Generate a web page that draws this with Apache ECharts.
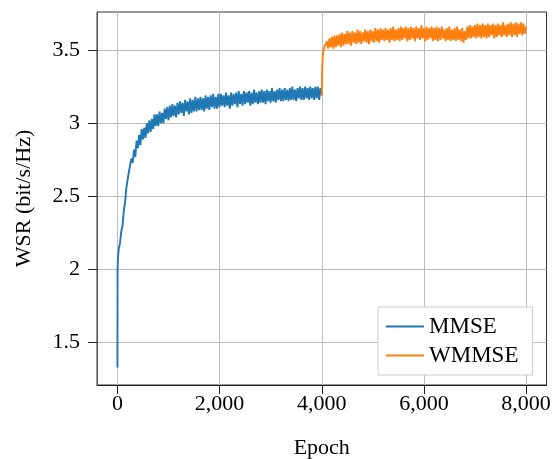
<!DOCTYPE html>
<html><head><meta charset="utf-8">
<script src="https://cdn.jsdelivr.net/npm/echarts@6/dist/echarts.min.js"></script>
<style>html,body{margin:0;padding:0;background:#fff}#c{width:553px;height:459px}</style>
</head><body><div id="c"></div>
<script>
// ---- data ----
const mmseHeadEpochs = [0, 3, 10];
const mmseHeadWSR = [1.33, 2.0, 2.08];
const mmseStartEpoch = 25;
const logStep = 25;
const mmseWSR = [
2.14,2.18,2.26,2.30,2.40,2.46,2.56,2.57,
2.67,2.66,2.76,2.73,2.82,2.77,2.88,2.83,
2.92,2.85,2.96,2.89,2.97,2.90,3.00,2.93,
3.02,2.94,3.03,2.96,3.06,2.98,3.06,2.98,
3.08,3.00,3.07,3.00,3.10,3.03,3.11,3.02,
3.12,3.04,3.13,3.05,3.12,3.04,3.14,3.06,
3.15,3.07,3.14,3.05,3.16,3.08,3.15,3.06,
3.17,3.07,3.16,3.08,3.18,3.08,3.17,3.09,
3.18,3.09,3.17,3.08,3.19,3.10,3.18,3.09,
3.19,3.11,3.20,3.10,3.18,3.10,3.20,3.11,
3.20,3.12,3.19,3.11,3.21,3.12,3.19,3.10,
3.21,3.12,3.20,3.13,3.21,3.11,3.22,3.13,
3.20,3.12,3.22,3.13,3.21,3.14,3.22,3.12,
3.21,3.13,3.23,3.14,3.21,3.13,3.22,3.14,
3.23,3.14,3.22,3.13,3.23,3.15,3.22,3.14,
3.24,3.15,3.22,3.14,3.23,3.16,3.24,3.15,
3.23,3.15,3.24,3.16,3.23,3.15,3.24,3.16,
3.25,3.16,3.23,3.15,3.24,3.17,3.25,3.16,
3.24,3.16,3.25,3.17,3.24,3.16,3.25,3.17,
3.24,3.16,3.25,3.17,3.25,3.16,3.24,3.19
];
const wmmseHeadEpochs = [4000, 4005, 4012, 4020];
const wmmseHeadWSR = [3.19, 3.30, 3.40, 3.46];
const wmmseStartEpoch = 4025;
const wmmseWSR = [
3.48,3.52,3.51,3.56,3.51,3.58,3.52,3.59,
3.51,3.60,3.52,3.60,3.53,3.61,3.52,3.62,
3.53,3.61,3.54,3.63,3.54,3.62,3.53,3.63,
3.55,3.62,3.54,3.64,3.55,3.63,3.54,3.62,
3.56,3.64,3.55,3.63,3.54,3.64,3.56,3.63,
3.55,3.65,3.56,3.64,3.55,3.65,3.57,3.64,
3.56,3.65,3.57,3.64,3.55,3.65,3.57,3.66,
3.56,3.64,3.57,3.65,3.56,3.66,3.57,3.65,
3.58,3.66,3.56,3.65,3.57,3.66,3.58,3.65,
3.56,3.66,3.58,3.65,3.57,3.67,3.58,3.65,
3.56,3.66,3.57,3.65,3.58,3.66,3.56,3.65,
3.57,3.66,3.56,3.65,3.57,3.66,3.58,3.64,
3.56,3.65,3.57,3.66,3.56,3.64,3.57,3.65,
3.56,3.66,3.57,3.64,3.56,3.65,3.55,3.63,
3.57,3.66,3.58,3.67,3.58,3.66,3.59,3.67,
3.58,3.68,3.59,3.67,3.58,3.68,3.59,3.67,
3.58,3.68,3.59,3.67,3.60,3.68,3.58,3.67,
3.59,3.68,3.60,3.67,3.59,3.69,3.60,3.67,
3.59,3.68,3.60,3.69,3.59,3.68,3.60,3.69,
3.59,3.68,3.61,3.69,3.60,3.68,3.61,3.66
];
const xTicks = [0, 2000, 4000, 6000, 8000];
const yTicks = [1.5, 2, 2.5, 3, 3.5];
const seriesNames = ['MMSE', 'WMMSE'];

// ---- build ----
function build(headE, headV, start, vals) {
  const out = headE.map((e, i) => [e, headV[i]]);
  vals.forEach((v, i) => out.push([start + i * logStep, v]));
  return out;
}
const FONT = 'Liberation Serif';
const chart = echarts.init(document.getElementById('c'), null, {renderer: 'canvas'});
const labelStyle = {fontFamily: FONT, fontSize: 22, color: '#000'};
chart.setOption({
  animation: false,
  backgroundColor: '#fff',
  grid: {left: 97, top: 12, right: 6.5, bottom: 74, outerBoundsMode: 'none', containLabel: false,
         show: true, borderColor: '#333', borderWidth: 1, backgroundColor: 'transparent'},
  xAxis: {
    type: 'value', min: -400, max: 8400,
    name: 'Epoch', nameLocation: 'middle', nameGap: 52,
    nameTextStyle: labelStyle,
    axisLine: {show: true, onZero: false, lineStyle: {color: '#222', width: 1}},
    axisTick: {show: true, length: 9, inside: false, customValues: xTicks, lineStyle: {color: '#222'}},
    axisLabel: Object.assign({}, labelStyle, {margin: 8, customValues: xTicks,
      formatter: v => v.toLocaleString('en-US')}),
    splitLine: {show: true, lineStyle: {color: '#bdbdbd', width: 1}}
  },
  yAxis: {
    type: 'value', min: 1.211, max: 3.76,
    name: 'WSR (bit/s/Hz)', nameLocation: 'middle', nameGap: 62, nameRotate: 90,
    nameTextStyle: labelStyle,
    axisLine: {show: true, onZero: false, lineStyle: {color: '#555', width: 1}},
    axisTick: {show: true, length: 9, inside: false, customValues: yTicks, lineStyle: {color: '#222'}},
    axisLabel: Object.assign({}, labelStyle, {margin: 17, customValues: yTicks,
      formatter: v => String(v)}),
    splitLine: {show: true, lineStyle: {color: '#bdbdbd', width: 1}}
  },
  legend: {
    left: 378, top: 307, orient: 'vertical',
    padding: [8, 14, 8, 8], itemGap: 6,
    itemWidth: 38, itemHeight: 2.2, icon: 'rect',
    backgroundColor: '#fff', borderColor: '#cccccc', borderWidth: 1, borderRadius: 0,
    textStyle: {fontFamily: FONT, fontSize: 23, color: '#000', lineHeight: 22},
    data: seriesNames
  },
  series: [
    {name: seriesNames[0], type: 'line', data: build(mmseHeadEpochs, mmseHeadWSR, mmseStartEpoch, mmseWSR),
     showSymbol: false, symbol: 'none', sampling: null, color: '#1f77b4',
     lineStyle: {width: 1.9, color: '#1f77b4'}, z: 3},
    {name: seriesNames[1], type: 'line', data: build(wmmseHeadEpochs, wmmseHeadWSR, wmmseStartEpoch, wmmseWSR),
     showSymbol: false, symbol: 'none', sampling: null, color: '#ff7f0e',
     lineStyle: {width: 1.9, color: '#ff7f0e'}, z: 4}
  ]
});
</script></body></html>
